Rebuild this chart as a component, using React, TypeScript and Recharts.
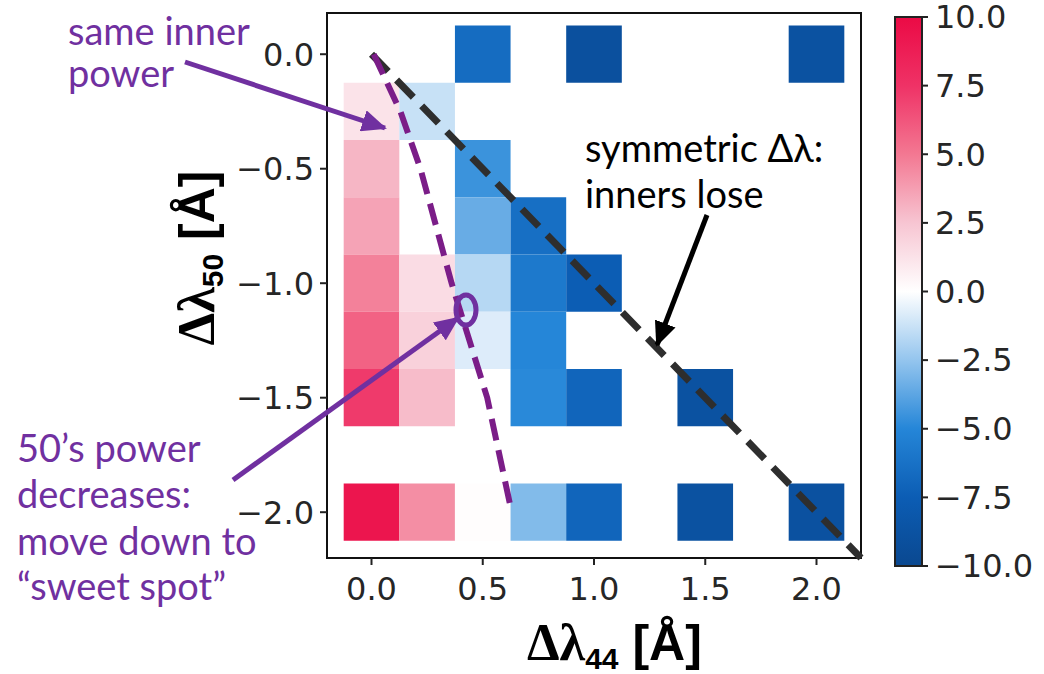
import {
  ScatterChart,
  Scatter,
  XAxis,
  YAxis,
  ReferenceArea,
  ReferenceLine,
} from "recharts";

// Grid of Δλ44 (columns) vs Δλ50 (rows); null means no cell drawn
const X_VALUES = [0, 0.25, 0.5, 0.75, 1.0, 1.5, 2.0];
const Y_VALUES = [0, -0.25, -0.5, -0.75, -1.0, -1.25, -1.5, -2.0];

const ROW_000 = [null, null, -6.6, null, -9.0, null, -8.8];
const ROW_025 = [1.2, -1.3, null, null, null, null, null];
const ROW_050 = [3.0, null, -4.5, null, null, null, null];
const ROW_075 = [3.6, null, -3.5, -6.4, null, null, null];
const ROW_100 = [4.7, 1.5, -1.7, -5.8, -7.5, null, null];
const ROW_125 = [5.8, 2.0, -0.8, -5.0, null, null, null];
const ROW_150 = [7.2, 2.8, null, -4.9, -7.0, -8.8, null];
const ROW_200 = [9.3, 4.3, 0.1, -2.9, -7.0, -8.8, -8.9];
const ROWS = [ROW_000, ROW_025, ROW_050, ROW_075, ROW_100, ROW_125, ROW_150, ROW_200];

const X_TICKS = [0, 0.5, 1.0, 1.5, 2.0];
const Y_TICKS = [0, -0.5, -1.0, -1.5, -2.0];
const CBAR_TICKS = [10, 7.5, 5, 2.5, 0, -2.5, -5, -7.5, -10];

// diagonal Δλ44 = -Δλ50
const SYMMETRIC_LINE = [
  { x: 0, y: 0 },
  { x: 2.2, y: -2.2 },
];
// equal inner power contour
const SAME_POWER_LINE = [
  { x: 0.01, y: 0.0 },
  { x: 0.13, y: -0.25 },
  { x: 0.22, y: -0.5 },
  { x: 0.29, y: -0.75 },
  { x: 0.36, y: -1.0 },
  { x: 0.44, y: -1.25 },
  { x: 0.52, y: -1.5 },
  { x: 0.63, y: -2.0 },
];

const CMAP_STOPS: [number, string][] = [
  [-10, "#0a4890"],
  [-7.5, "#0c5db4"],
  [-5, "#2586d8"],
  [-2.5, "#94c5ee"],
  [0, "#ffffff"],
  [2.5, "#f7c5d2"],
  [5, "#f37892"],
  [7.5, "#ef3266"],
  [10, "#eb0a45"],
];

const hex = (c: string) => [1, 3, 5].map((i) => parseInt(c.slice(i, i + 2), 16));

function colorFor(v: number) {
  for (let i = 0; i < CMAP_STOPS.length - 1; i++) {
    const [v0, c0] = CMAP_STOPS[i];
    const [v1, c1] = CMAP_STOPS[i + 1];
    if (v >= v0 && v <= v1) {
      const t = (v - v0) / (v1 - v0);
      const a = hex(c0);
      const b = hex(c1);
      const m = a.map((ch, k) => Math.round(ch + (b[k] - ch) * t));
      return `rgb(${m[0]},${m[1]},${m[2]})`;
    }
  }
  return v < 0 ? CMAP_STOPS[0][1] : CMAP_STOPS[CMAP_STOPS.length - 1][1];
}

const fmt = (v: number) => (v < 0 ? "\u2212" + Math.abs(v).toFixed(1) : v.toFixed(1));

const cells: { x: number; y: number; v: number }[] = [];
ROWS.forEach((row, r) =>
  row.forEach((v, c) => {
    if (v !== null) cells.push({ x: X_VALUES[c], y: Y_VALUES[r], v });
  })
);

const cbarPoints = CBAR_TICKS.map((v) => ({ x: 0.5, y: v }));

const HALF = 0.125;
const TICK_STYLE = { fontFamily: "DejaVu Sans", fontSize: 32, fill: "#262626" };
const PURPLE = "#7030a0";
const NOTE_FONT = "Lato, 'Open Sans', sans-serif";

export default function App() {
  return (
    <div style={{ position: "absolute", left: 0, top: 0, width: 1044, height: 674, background: "#fff" }}>
      <div style={{ position: "absolute", left: 0, top: 0 }}>
        <ScatterChart width={870} height={674} margin={{ top: 13, right: 9, bottom: 0, left: 0 }}>
          <XAxis
            type="number"
            dataKey="x"
            domain={[-0.2, 2.2]}
            ticks={X_TICKS}
            interval={0}
            tickFormatter={fmt}
            height={116}
            axisLine={false}
            tickSize={7}
            tickMargin={12}
            tickLine={{ stroke: "#222", strokeWidth: 2 }}
            tick={TICK_STYLE}
            allowDataOverflow
          />
          <YAxis
            type="number"
            dataKey="y"
            domain={[-2.2, 0.18]}
            ticks={Y_TICKS}
            interval={0}
            tickFormatter={fmt}
            width={327}
            axisLine={false}
            tickSize={7}
            tickMargin={6}
            tickLine={{ stroke: "#222", strokeWidth: 2 }}
            tick={TICK_STYLE}
            allowDataOverflow
          />
          {cells.map((c, i) => (
            <ReferenceArea
              key={i}
              x1={c.x - HALF}
              x2={c.x + HALF}
              y1={c.y - HALF}
              y2={c.y + HALF}
              fill={colorFor(c.v)}
              fillOpacity={1}
              stroke="none"
            />
          ))}
          <Scatter
            data={SAME_POWER_LINE}
            isAnimationActive={false}
            line={{ stroke: "#7b1d88", strokeWidth: 6, strokeDasharray: "22 10" }}
            lineType="joint"
            shape={() => <g />}
          />
          <ReferenceLine
            segment={SYMMETRIC_LINE}
            stroke="#2e2e2e"
            strokeWidth={7}
            strokeDasharray="24 12"
            ifOverflow="visible"
          />
          <ReferenceArea
            x1={-0.2}
            x2={2.2}
            y1={-2.2}
            y2={0.18}
            fill="none"
            stroke="#111"
            strokeWidth={2}
          />
        </ScatterChart>
      </div>

      {/* colour bar */}
      <div style={{ position: "absolute", left: 887, top: 0 }}>
        <ScatterChart width={157} height={674} margin={{ top: 17, right: 0, bottom: 108, left: 8 }}>
          <defs>
            <linearGradient id="cbar" x1="0" y1="0" x2="0" y2="1">
              {[...CMAP_STOPS].reverse().map(([v, c], i) => (
                <stop key={i} offset={`${((10 - v) / 20) * 100}%`} stopColor={c} />
              ))}
            </linearGradient>
          </defs>
          <XAxis type="number" dataKey="x" domain={[0, 1]} hide />
          <YAxis
            type="number"
            dataKey="y"
            orientation="right"
            domain={[-10, 10]}
            ticks={CBAR_TICKS}
            interval={0}
            tickFormatter={fmt}
            width={122}
            axisLine={false}
            tickSize={6}
            tickMargin={7}
            tickLine={{ stroke: "#222", strokeWidth: 2 }}
            tick={TICK_STYLE}
          />
          <ReferenceArea x1={0} x2={1} y1={-10} y2={10} fill="url(#cbar)" fillOpacity={1} stroke="#222" strokeWidth={2} />
          <Scatter data={cbarPoints} isAnimationActive={false} shape={() => <g />} />
        </ScatterChart>
      </div>

      <svg
        width={1044}
        height={674}
        style={{ position: "absolute", left: 0, top: 0, pointerEvents: "none" }}
      >
        <defs>
          <marker id="headPurple" markerWidth="5" markerHeight="4.4" refX="4.6" refY="2.2" orient="auto" markerUnits="strokeWidth">
            <path d="M0,0 L5,2.2 L0,4.4 z" fill={PURPLE} />
          </marker>
          <marker id="headBlack" markerWidth="5" markerHeight="4.4" refX="4.6" refY="2.2" orient="auto" markerUnits="strokeWidth">
            <path d="M0,0 L5,2.2 L0,4.4 z" fill="#000" />
          </marker>
        </defs>

        {/* axis titles */}
        <text x={527} y={660} fontWeight="bold" fill="#000">
          <tspan fontFamily="Liberation Serif" fontSize={52}>Δλ</tspan>
          <tspan fontFamily="Liberation Sans" fontSize={30} dy={9}>44</tspan>
          <tspan fontFamily="Liberation Sans" fontSize={50} dy={-9}> [Å]</tspan>
        </text>
        <text transform="translate(214,258) rotate(-90)" textAnchor="middle" fontWeight="bold" fill="#000">
          <tspan fontFamily="Liberation Serif" fontSize={52}>Δλ</tspan>
          <tspan fontFamily="Liberation Sans" fontSize={30} dy={9}>50</tspan>
          <tspan fontFamily="Liberation Sans" fontSize={50} dy={-9}> [Å]</tspan>
        </text>

        {/* annotations */}
        <g fontFamily={NOTE_FONT} fontSize={38} fill={PURPLE}>
          <text x={68} y={45}>same inner</text>
          <text x={68} y={87}>power</text>
          <text x={17} y={462}>50’s power</text>
          <text x={17} y={508}>decreases:</text>
          <text x={17} y={555}>move down to</text>
          <text x={17} y={600}>“sweet spot”</text>
        </g>
        <g fontFamily={NOTE_FONT} fontSize={38} fill="#000">
          <text x={585} y={162}>symmetric Δλ:</text>
          <text x={585} y={208}>inners lose</text>
        </g>
        <line x1={185} y1={62} x2={385} y2={128} stroke={PURPLE} strokeWidth={5} markerEnd="url(#headPurple)" />
        <line x1={233} y1={480} x2={458} y2={318} stroke={PURPLE} strokeWidth={5} markerEnd="url(#headPurple)" />
        <line x1={707} y1={215} x2={657} y2={345} stroke="#000" strokeWidth={5} markerEnd="url(#headBlack)" />
        <ellipse cx={466} cy={310} rx={10} ry={15} fill="none" stroke={PURPLE} strokeWidth={5} />
      </svg>
    </div>
  );
}
